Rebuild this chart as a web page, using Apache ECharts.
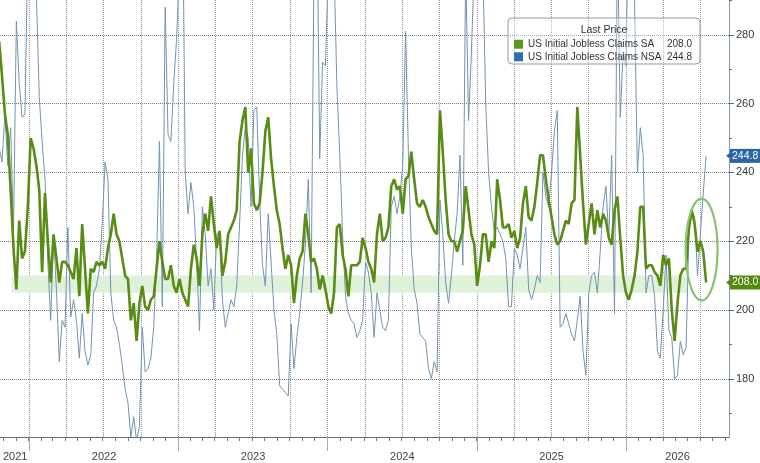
<!DOCTYPE html>
<html>
<head>
<meta charset="utf-8">
<title>US Initial Jobless Claims</title>
<script src="https://cdn.jsdelivr.net/npm/echarts@6/dist/echarts.min.js"></script>
<style>
  html, body { margin: 0; padding: 0; background: #fff; }
  #chart { width: 760px; height: 463px; }
</style>
</head>
<body>
<div id="chart"></div>
<script>
const DAY = 86400000;

// weekly readings (thousands), first week 2021-10-21
const firstWeek = '2021-10-21';
const seriesNames = ['US Initial Jobless Claims SA', 'US Initial Jobless Claims NSA'];

const saValues = [
  278, 268, 257, 251, 235, 218, 206, 226, 215, 217, 230, 250, 247, 242, 235, 211, 234, 220, 208, 222,
  215, 208, 214, 214, 213, 211, 209, 218, 204, 225, 212, 199, 212, 211, 214, 213, 214, 212, 218, 222,
  228, 222, 220, 215, 210, 209, 197, 202, 191, 202, 207, 201, 200, 203, 204, 212, 220, 214, 209, 209,
  213, 207, 205, 209, 205, 203, 201, 212, 219, 215, 207, 222, 228, 223, 233, 225, 218, 223, 210, 214,
  222, 224, 226, 229, 249, 255, 259, 240, 247, 231, 229, 231, 240, 252, 256, 244, 236, 229, 225, 218,
  212, 216, 213, 202, 210, 215, 217, 228, 222, 214, 215, 212, 206, 210, 206, 201, 199, 205, 224, 225,
  216, 212, 204, 213, 213, 213, 214, 221, 218, 214, 212, 208, 222, 228, 220, 221, 224, 236, 238, 235,
  236, 228, 238, 239, 246, 238, 231, 230, 232, 230, 227, 225, 223, 222, 258, 246, 232, 222, 220, 220,
  217, 220, 223, 236, 229, 222, 219, 207, 213, 222, 222, 214, 220, 218, 238, 232, 224, 224, 225, 221,
  223, 218, 221, 231, 236, 227, 226, 230, 237, 245, 245, 238, 232, 227, 222, 219, 220, 223, 226, 225,
  231, 232, 259, 245, 231, 219, 225, 231, 222, 229, 224, 228, 226, 221, 219, 229, 233, 221, 210, 205,
  203, 206, 210, 217, 230, 230, 212, 213, 213, 211, 210, 207, 216, 213, 215, 200, 191, 202, 210, 212,
  212, 224, 229, 225, 217, 220, 217, 208.0
];

const nsaValues = [
  247, 243, 257, 242, 253, 223, 284, 266, 256, 257, 305, 340, 320, 292, 262, 249, 238, 214, 197, 222,
  206, 185, 197, 195, 224, 198, 203, 197, 186, 199, 188, 184, 187, 205, 207, 212, 225, 243, 238, 205,
  197, 195, 190, 184, 177, 173, 163, 169, 162, 166, 195, 182, 183, 186, 195, 215, 249, 201, 288, 251,
  249, 266, 279, 300, 330, 240, 228, 237, 230, 214, 194, 230, 222, 207, 212, 200, 222, 223, 203, 195,
  199, 203, 201, 207, 225, 245, 253, 250, 230, 258, 259, 232, 213, 207, 228, 214, 200, 193, 178, 177,
  176, 175, 196, 183, 192, 199, 208, 219, 238, 205, 300, 320, 244, 272, 271, 300, 320, 300, 265, 245,
  222, 204, 199, 197, 196, 192, 194, 197, 214, 211, 205, 192, 205, 200, 195, 194, 197, 230, 233, 228,
  233, 242, 281, 245, 218, 206, 202, 193, 192, 191, 183, 180, 185, 182, 232, 222, 208, 202, 210, 220,
  228, 245, 213, 300, 255, 275, 300, 340, 310, 300, 260, 240, 230, 223, 224, 222, 220, 215, 201, 201,
  218, 216, 212, 218, 224, 206, 203, 206, 210, 208, 240, 233, 230, 240, 252, 258, 195, 196, 199, 196,
  193, 191, 197, 204, 188, 181, 205, 210, 211, 205, 217, 230, 236, 221, 245, 199, 310, 256, 275, 271,
  320, 340, 290, 240, 253, 245, 205, 210, 210, 204, 188, 186, 200, 216, 194, 192, 180, 181, 191, 187,
  189, 222, 229, 227, 210, 222, 234, 244.8
];

const yearLabels = ['2021', '2022', '2023', '2024', '2025', '2026'];
const yTicks = [180, 200, 220, 240, 260, 280];
const yMinorTicks = [170, 190, 210, 230, 250, 270, 290];
const axisStart = '2021-10-23', axisEnd = '2026-09-10';
const yMin = 163.1, yMax = 290.1;

// highlighted band and ring
const bandValues = [205, 210];
const bandDates = ['2021-11-21', '2026-06-01'];
const ringCenter = ['2026-07-05', 217.6];
const ringHalfDays = 39, ringHalfValue = 14.8;

const fontName = 'Liberation Sans';
const saColor = '#588c14', nsaColor = '#7193b2';

function toTime(s) {
  return Date.parse(s + 'T00:00:00Z');
}

/**
 * pair each weekly value with its date
 */
function weekly(values) {
  const t0 = toTime(firstWeek);
  return values.map((v, i) => [t0 + i * 7 * DAY, v]);
}

/**
 * first day of every month (step 1) or quarter (step 3) inside the axis
 */
function monthStarts(step) {
  const lo = toTime(axisStart), hi = toTime(axisEnd);
  let out = [];
  for (let y = 2021; y <= 2026; y++) {
    for (let m = 0; m < 12; m += step) {
      const t = Date.UTC(y, m, 1);
      if (t > lo && t < hi) out.push(t);
    }
  }
  return out;
}

function yearStarts() {
  const lo = toTime(axisStart), hi = toTime(axisEnd);
  return yearLabels.map(y => Date.UTC(+y, 0, 1)).filter(t => t > lo && t < hi);
}

function yearCenters() {
  const lo = toTime(axisStart), hi = toTime(axisEnd);
  return yearLabels.map(y => {
    const a = Math.max(Date.UTC(+y, 0, 1), lo);
    const b = Math.min(Date.UTC(+y + 1, 0, 1), hi);
    return (a + b) / 2;
  });
}

/**
 * last-value tag sitting on the right axis, with a small pointer
 */
function endTag(value, color) {
  return {
    yAxis: value,
    lineStyle: { color: color, width: 0 },
    label: {
      show: true, position: 'end', distance: 1,
      formatter: value.toFixed(1),
      color: '#fff', backgroundColor: color,
      padding: [2, 2, 1, 2], fontSize: 10.5, fontFamily: fontName
    }
  };
}

const chart = echarts.init(document.getElementById('chart'));
const saLast = saValues[saValues.length - 1];
const nsaLast = nsaValues[nsaValues.length - 1];
const xMin = toTime(axisStart), xMax = toTime(axisEnd);
const gridBox = { left: 0, right: 31, top: 0, bottom: 26 };

let option = {
  animation: false,
  backgroundColor: '#fff',
  textStyle: { fontFamily: fontName },
  grid: [Object.assign({}, gridBox), Object.assign({}, gridBox)],
  title: {
    text: 'Last Price', left: 604, top: 25, padding: 0, textAlign: 'center',
    textStyle: { fontSize: 10.5, fontWeight: 'normal', color: '#333', fontFamily: fontName }
  },
  legend: {
    left: 508, top: 18, orient: 'vertical',
    padding: [20, 8, 1, 6], itemGap: 0,
    itemWidth: 9, itemHeight: 9, icon: 'rect',
    borderColor: '#999', borderWidth: 1, borderRadius: 4,
    backgroundColor: 'rgba(255,255,255,0.35)',
    data: [
      { name: seriesNames[0], itemStyle: { color: '#5a9a1a' } },
      { name: seriesNames[1], itemStyle: { color: '#2e6eb0' } }
    ],
    formatter: name => {
      const v = name === seriesNames[0] ? saLast : nsaLast;
      return '{n|' + name + '}{v|' + v.toFixed(1) + '}';
    },
    textStyle: {
      fontSize: 10, color: '#333', lineHeight: 12.5,
      rich: {
        n: { width: 140, fontSize: 10, fontFamily: fontName },
        v: { width: 24, align: 'right', fontSize: 10, fontFamily: fontName }
      }
    }
  },
  xAxis: [
    {
      gridIndex: 0, type: 'value', position: 'bottom', min: xMin, max: xMax,
      axisLine: { show: true, lineStyle: { color: '#666' } },
      axisTick: { show: true, customValues: monthStarts(1), length: 4, lineStyle: { color: '#777' } },
      axisLabel: { show: false },
      splitLine: { show: false }
    },
    {
      gridIndex: 1, type: 'value', position: 'bottom', offset: 12, min: xMin, max: xMax,
      axisLine: { show: false },
      axisTick: { show: true, customValues: yearStarts(), length: 14, lineStyle: { color: '#aaa' } },
      axisLabel: {
        show: true, customValues: yearCenters(), margin: 2,
        fontSize: 11, color: '#444',
        formatter: v => String(new Date(v).getUTCFullYear())
      },
      splitLine: { show: false }
    },
    {
      gridIndex: 1, type: 'value', position: 'top', min: xMin, max: xMax,
      axisLine: { show: false },
      axisTick: { show: false, customValues: monthStarts(3) },
      axisLabel: { show: false },
      splitLine: { show: true, lineStyle: { type: 'dotted', color: '#9a9a9a', width: 1 } }
    }
  ],
  yAxis: [
    {
      gridIndex: 0, type: 'value', position: 'right', min: yMin, max: yMax,
      axisLine: { show: true, lineStyle: { color: '#7f9db9' } },
      axisTick: { show: true, customValues: yTicks, length: 5, lineStyle: { color: '#5a6f85' } },
      axisLabel: { show: true, customValues: yTicks, margin: 7, fontSize: 11, color: '#333' },
      splitLine: { show: true, lineStyle: { type: 'dotted', color: '#777', width: 1 } }
    },
    {
      gridIndex: 0, type: 'value', position: 'right', min: yMin, max: yMax,
      axisLine: { show: false },
      axisTick: { show: true, customValues: yMinorTicks, length: 3, lineStyle: { color: '#5a6f85' } },
      axisLabel: { show: false },
      splitLine: { show: false }
    },
    { gridIndex: 1, type: 'value', show: false, min: 0, max: 1 }
  ],
  series: [
    {
      name: 'band', type: 'line', xAxisIndex: 0, yAxisIndex: 0, data: [], z: 1,
      markArea: {
        silent: true,
        itemStyle: { color: '#e0f1d9' },
        data: [[
          { xAxis: toTime(bandDates[0]), yAxis: bandValues[0] },
          { xAxis: toTime(bandDates[1]), yAxis: bandValues[1] }
        ]]
      }
    },
    {
      name: seriesNames[1], type: 'line', xAxisIndex: 0, yAxisIndex: 0,
      data: weekly(nsaValues), showSymbol: false, z: 2,
      itemStyle: { color: '#2e6eb0' },
      lineStyle: { width: 1, color: nsaColor }
    },
    {
      name: seriesNames[0], type: 'line', xAxisIndex: 0, yAxisIndex: 0,
      data: weekly(saValues), showSymbol: false, z: 3,
      itemStyle: { color: '#5a9a1a' },
      lineStyle: { width: 2.6, color: saColor }
    },
    {
      name: 'tags', type: 'line', xAxisIndex: 0, yAxisIndex: 0, data: [], z: 5, clip: false,
      markLine: {
        silent: true,
        symbol: ['none', 'triangle'],
        symbolSize: [9, 6],
        symbolRotate: 90,
        animation: false,
        data: [endTag(nsaLast, '#2a66a3'), endTag(saLast, '#55880f')]
      }
    }
  ]
};

chart.setOption(option);

/**
 * ring around the latest readings, placed through the axes
 */
function drawRing() {
  const t = toTime(ringCenter[0]);
  const c = chart.convertToPixel({ xAxisIndex: 0, yAxisIndex: 0 }, [t, ringCenter[1]]);
  const e = chart.convertToPixel({ xAxisIndex: 0, yAxisIndex: 0 }, [t + ringHalfDays * DAY, ringCenter[1] + ringHalfValue]);
  chart.setOption({
    graphic: [{
      type: 'ellipse', z: 100, silent: true,
      shape: { cx: c[0], cy: c[1], rx: Math.abs(e[0] - c[0]), ry: Math.abs(c[1] - e[1]) },
      style: { fill: 'none', stroke: '#86c46e', lineWidth: 2.2 }
    }]
  });
}
drawRing();
</script>
</body>
</html>
